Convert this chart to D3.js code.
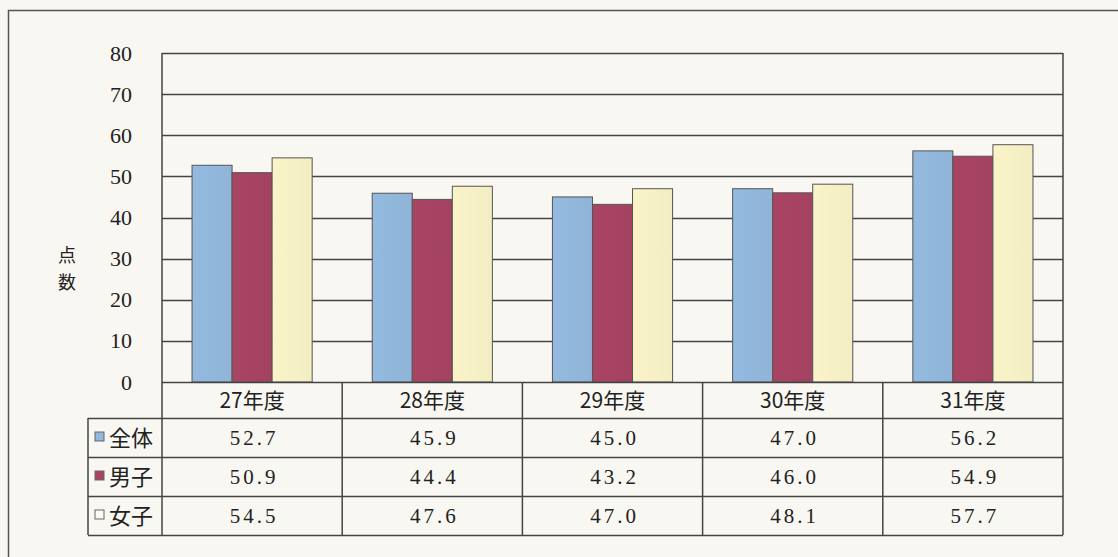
<!DOCTYPE html>
<html>
<head>
<meta charset="utf-8">
<script src="https://cdn.jsdelivr.net/npm/d3@7/dist/d3.min.js"></script>
<style>
  html, body { margin: 0; padding: 0; background: #f8f7f2; }
  svg { display: block; }
</style>
</head>
<body>
<svg id="chart" width="1118" height="557"></svg>
<script>
// ---- data ----
const categories = ["27年度", "28年度", "29年度", "30年度", "31年度"];
const seriesNames = ["全体", "男子", "女子"];
const valuesAll   = [52.7, 45.9, 45.0, 47.0, 56.2];
const valuesBoys  = [50.9, 44.4, 43.2, 46.0, 54.9];
const valuesGirls = [54.5, 47.6, 47.0, 48.1, 57.7];
const yTicks = [0, 10, 20, 30, 40, 50, 60, 70, 80];
const yLabel = ["点", "数"];

const seriesValues = [valuesAll, valuesBoys, valuesGirls];
const colors = ["#92b7dc", "#a74363", "#f7f1c6"];
const legendColors = ["#92b7dc", "#a74363", "#fbfaf0"];

// ---- layout ----
const svg = d3.select("#chart");
const W = 1118, H = 557;
const plot = { left: 162, right: 1063, top: 53, bottom: 382 };
const tableLeft = 88;
const catRowBottom = 418;
const rowH = 39;
const lineColor = "#444";

svg.append("rect").attr("width", W).attr("height", H).attr("fill", "#f8f7f2");

// outer frame (clipped by the picture on the right and bottom)
svg.append("path")
  .attr("d", `M8.5,${H + 5} L8.5,10.5 L${W + 5},10.5`)
  .attr("fill", "none").attr("stroke", "#555").attr("stroke-width", 1.5);

const x0 = d3.scaleBand().domain(categories).range([plot.left, plot.right]).padding(0);
const x1 = d3.scaleBand().domain(seriesNames).range([0, x0.bandwidth()]).paddingInner(0).paddingOuter(0.75);
const y = d3.scaleLinear().domain([0, 80]).range([plot.bottom, plot.top]);

// gridlines
svg.append("g").selectAll("line").data(yTicks.filter(d => d > 0)).join("line")
  .attr("x1", plot.left).attr("x2", plot.right)
  .attr("y1", d => Math.round(y(d)) + 0.5).attr("y2", d => Math.round(y(d)) + 0.5)
  .attr("stroke", lineColor).attr("stroke-width", 1.4);

// y-axis labels
const yAxis = d3.axisLeft(y).tickValues(yTicks).tickSize(0).tickPadding(30);
const gy = svg.append("g").attr("transform", `translate(${plot.left},0)`).call(yAxis);
gy.select(".domain").remove();
gy.selectAll("text")
  .attr("font-family", "'Liberation Serif', serif")
  .attr("font-size", 22).attr("fill", "#222");

// y label (stacked vertically)
svg.append("g").selectAll("text").data(yLabel).join("text")
  .attr("x", 67).attr("y", (d, i) => 262 + i * 27)
  .attr("text-anchor", "middle")
  .attr("font-family", "'Noto Sans CJK JP', sans-serif")
  .attr("font-size", 18).attr("fill", "#222")
  .text(d => d);

// bars (nearly flat fill with a faint shading)
const defs = svg.append("defs");
colors.forEach((c, i) => {
  const g = defs.append("linearGradient").attr("id", "grad" + i).attr("x1", "0").attr("x2", "1");
  g.append("stop").attr("offset", "0").attr("stop-color", d3.color(c).brighter(0.04));
  g.append("stop").attr("offset", "1").attr("stop-color", d3.color(c).darker(0.05));
});

const groups = svg.append("g").selectAll("g").data(categories).join("g")
  .attr("transform", d => `translate(${x0(d)},0)`);
groups.selectAll("rect")
  .data((cat, ci) => seriesNames.map((s, si) => ({ s, si, v: seriesValues[si][ci] })))
  .join("rect")
  .attr("x", d => x1(d.s))
  .attr("width", x1.bandwidth())
  .attr("y", d => y(d.v))
  .attr("height", d => y(0) - y(d.v))
  .attr("fill", d => `url(#grad${d.si})`)
  .attr("stroke", "#555").attr("stroke-width", 1);

// plot frame
const tableBottom = catRowBottom + rowH * 3;
svg.append("line").attr("x1", plot.left).attr("x2", plot.left).attr("y1", plot.top).attr("y2", tableBottom)
  .attr("stroke", lineColor).attr("stroke-width", 1.5);
svg.append("line").attr("x1", plot.right).attr("x2", plot.right).attr("y1", plot.top).attr("y2", tableBottom)
  .attr("stroke", lineColor).attr("stroke-width", 1.5);
svg.append("line").attr("x1", plot.left).attr("x2", plot.right).attr("y1", plot.bottom + 0.5).attr("y2", plot.bottom + 0.5)
  .attr("stroke", lineColor).attr("stroke-width", 1.5);

// table horizontal lines
[catRowBottom, catRowBottom + rowH, catRowBottom + rowH * 2, tableBottom].forEach(yy => {
  svg.append("line").attr("x1", tableLeft).attr("x2", plot.right).attr("y1", yy + 0.5).attr("y2", yy + 0.5)
    .attr("stroke", lineColor).attr("stroke-width", 1.5);
});
svg.append("line").attr("x1", tableLeft).attr("x2", tableLeft).attr("y1", catRowBottom).attr("y2", tableBottom)
  .attr("stroke", lineColor).attr("stroke-width", 1.5);
// column separators
svg.append("g").selectAll("line").data(categories.slice(1)).join("line")
  .attr("x1", d => x0(d)).attr("x2", d => x0(d))
  .attr("y1", plot.bottom).attr("y2", tableBottom)
  .attr("stroke", lineColor).attr("stroke-width", 1.5);

// category labels
svg.append("g").selectAll("text").data(categories).join("text")
  .attr("x", d => x0(d) + x0.bandwidth() / 2)
  .attr("y", (plot.bottom + catRowBottom) / 2 + 8)
  .attr("text-anchor", "middle")
  .attr("font-family", "'Noto Sans CJK JP', sans-serif")
  .attr("font-size", 21).attr("fill", "#222")
  .text(d => d);

// row labels with legend keys
const rows = svg.append("g").selectAll("g").data(seriesNames).join("g")
  .attr("transform", (d, i) => `translate(0,${catRowBottom + i * rowH})`);
rows.append("rect")
  .attr("x", 95).attr("y", 14).attr("width", 9).attr("height", 9)
  .attr("fill", (d, i) => legendColors[i]).attr("stroke", "#666").attr("stroke-width", 1);
rows.append("text")
  .attr("x", 109).attr("y", rowH / 2 + 8)
  .attr("font-family", "'Noto Sans CJK JP', sans-serif")
  .attr("font-size", 22).attr("fill", "#222")
  .text(d => d);

// values
rows.selectAll("text.val")
  .data((s, si) => categories.map((c, ci) => ({ c, v: seriesValues[si][ci] })))
  .join("text").attr("class", "val")
  .attr("x", d => x0(d.c) + x0.bandwidth() / 2 + 2)
  .attr("y", rowH / 2 + 7)
  .attr("text-anchor", "middle")
  .attr("font-family", "'Liberation Serif', serif")
  .attr("font-size", 21).attr("letter-spacing", 3).attr("fill", "#222")
  .text(d => d.v.toFixed(1));
</script>
</body>
</html>
